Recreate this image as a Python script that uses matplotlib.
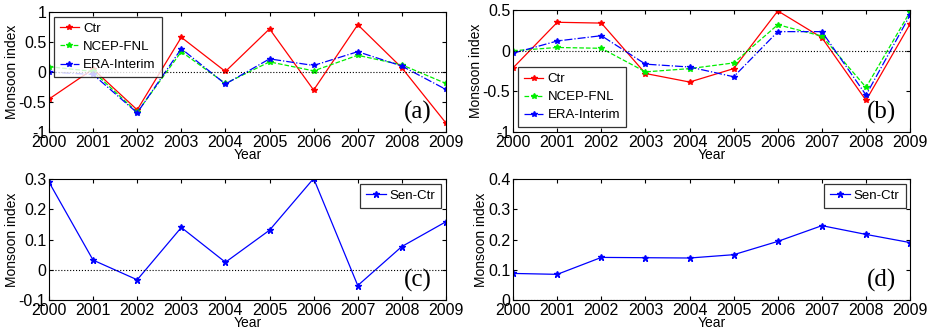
import numpy as np
import matplotlib
matplotlib.use('Agg')
import matplotlib.pyplot as plt

plt.rcParams['font.family'] = ['Liberation Sans', 'DejaVu Sans']

years = np.arange(2000, 2010)

# panel (a)
ctr_a = [-0.45, 0.05, -0.63, 0.58, 0.01, 0.72, -0.30, 0.79, 0.07, -0.85]
ncep_a = [0.09, 0.01, -0.67, 0.34, -0.19, 0.17, 0.02, 0.28, 0.12, -0.19]
era_a = [0.00, -0.04, -0.68, 0.39, -0.20, 0.22, 0.11, 0.34, 0.10, -0.29]

# panel (b)
ctr_b = [-0.21, 0.35, 0.34, -0.28, -0.385, -0.22, 0.49, 0.16, -0.61, 0.33]
ncep_b = [0.00, 0.04, 0.03, -0.26, -0.22, -0.15, 0.32, 0.18, -0.45, 0.48]
era_b = [-0.03, 0.12, 0.185, -0.165, -0.20, -0.32, 0.235, 0.235, -0.545, 0.44]

# panels (c), (d)
sen_c = [0.29, 0.032, -0.033, 0.14, 0.025, 0.131, 0.302, -0.052, 0.077, 0.159]
sen_d = [0.088, 0.085, 0.141, 0.14, 0.139, 0.15, 0.194, 0.246, 0.217, 0.19]


def style_axes(ax, ylim, yticks, tag):
    ax.set_xlim(2000, 2009)
    ax.set_ylim(*ylim)
    ax.set_xticks(years)
    ax.set_yticks(yticks)
    ax.set_yticklabels([('%g' % v) for v in yticks])
    ax.tick_params(direction='in', top=True, right=True, labelsize=11.5,
                   length=3, pad=2)
    ax.axhline(0, color='k', ls=':', lw=0.8)
    ax.set_xlabel('Year', fontsize=10, labelpad=-1)
    ax.set_ylabel('Monsoon index', fontsize=10, labelpad=0)
    for s in ax.spines.values():
        s.set_linewidth(0.8)
    ax.text(0.965, 0.07, tag, transform=ax.transAxes, ha='right', va='bottom',
            fontsize=18, family='Liberation Serif')


def legend(ax, loc):
    leg = ax.legend(loc=loc, fontsize=9.5, fancybox=False, edgecolor='k',
                    handlelength=1.5, handletextpad=0.3, borderpad=0.45,
                    labelspacing=0.45, borderaxespad=0.35)
    leg.get_frame().set_linewidth(0.9)


fig = plt.figure(figsize=(9.33, 3.36), dpi=100)
ax_a = fig.add_axes([0.0525, 0.607, 0.4255, 0.357])
ax_b = fig.add_axes([0.55, 0.607, 0.4255, 0.363])
ax_c = fig.add_axes([0.0525, 0.107, 0.4255, 0.36])
ax_d = fig.add_axes([0.55, 0.107, 0.4255, 0.36])

for ax, c, n, e in [(ax_a, ctr_a, ncep_a, era_a), (ax_b, ctr_b, ncep_b, era_b)]:
    ax.plot(years, c, '-', color='red', marker='*', ms=4, lw=0.9, label='Ctr')
    ax.plot(years, n, '--', color='#00ee00', marker='*', ms=4, lw=0.9, label='NCEP-FNL')
    ax.plot(years, e, '-.', color='blue', marker='*', ms=4, lw=0.9, label='ERA-Interim')

for ax, s in [(ax_c, sen_c), (ax_d, sen_d)]:
    ax.plot(years, s, '-', color='blue', marker='*', ms=5, lw=0.9, label='Sen-Ctr')

style_axes(ax_a, (-1, 1), [-1, -0.5, 0, 0.5, 1], '(a)')
style_axes(ax_b, (-1, 0.5), [-1, -0.5, 0, 0.5], '(b)')
style_axes(ax_c, (-0.1, 0.3), [-0.1, 0, 0.1, 0.2, 0.3], '(c)')
style_axes(ax_d, (0, 0.4), [0, 0.1, 0.2, 0.3, 0.4], '(d)')

legend(ax_a, 'upper left')
legend(ax_b, 'lower left')
legend(ax_c, 'upper right')
legend(ax_d, 'upper right')

fig.savefig('out.png', dpi=100)
